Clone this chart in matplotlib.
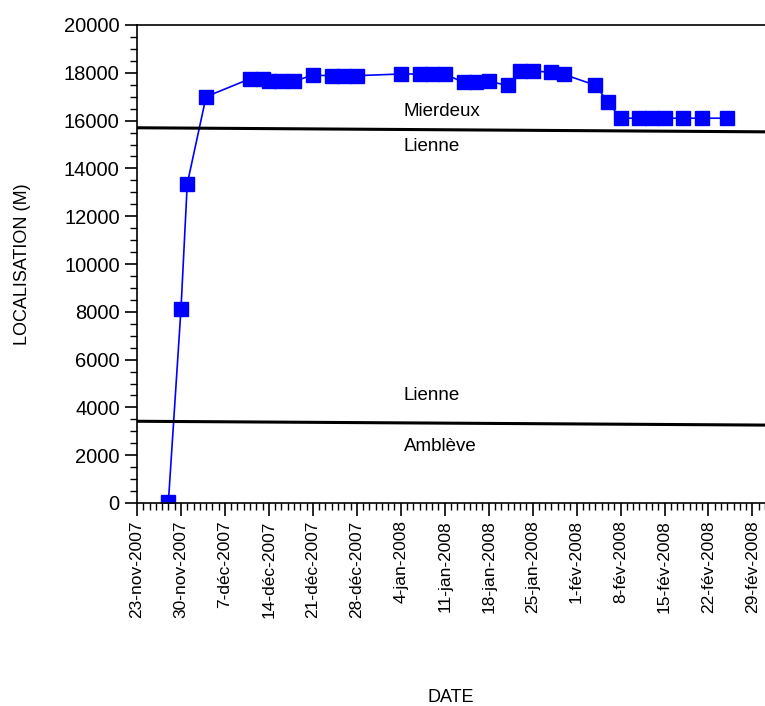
import numpy as np
import matplotlib
matplotlib.use('Agg')
import matplotlib.pyplot as plt
import matplotlib.dates as mdates
from matplotlib.ticker import MultipleLocator, FixedLocator

plt.rcParams['font.family'] = ['Liberation Sans', 'DejaVu Sans']

# positions (m) along the river, by date
dates = ['2007-11-28', '2007-11-30', '2007-12-01', '2007-12-04',
         '2007-12-11', '2007-12-13',
         '2007-12-14', '2007-12-16', '2007-12-18',
         '2007-12-21',
         '2007-12-24', '2007-12-26', '2007-12-28',
         '2008-01-04',
         '2008-01-07', '2008-01-09', '2008-01-11',
         '2008-01-14', '2008-01-16',
         '2008-01-18', '2008-01-21',
         '2008-01-23', '2008-01-25',
         '2008-01-28', '2008-01-30',
         '2008-02-04', '2008-02-06', '2008-02-08',
         '2008-02-11', '2008-02-13', '2008-02-15',
         '2008-02-18', '2008-02-21', '2008-02-25']
localisation = [50, 8100, 13350, 17000,
                17750, 17750,
                17650, 17650, 17650,
                17900,
                17880, 17880, 17880,
                17950,
                17950, 17950, 17950,
                17600, 17600,
                17650, 17470,
                18080, 18080,
                18020, 17930,
                17480, 16770, 16100,
                16100, 16100, 16100,
                16100, 16100, 16100]

# confluences (start / end of the horizontal limit)
confl_upper = [15700, 15530]
confl_lower = [3420, 3260]
labels_upper = ['Mierdeux', 'Lienne']
labels_lower = ['Lienne', 'Amblève']

mois = ['jan', 'fév', 'mar', 'avr', 'mai', 'jun', 'jul', 'aoû', 'sep',
        'oct', 'nov', 'déc']
t_start = np.datetime64('2007-11-23')
t_end = t_start + np.timedelta64(100, 'D')
tick_dates = np.arange(t_start, np.datetime64('2008-03-01'), np.timedelta64(7, 'D'))
tick_labels = ['%d-%s-%d' % (d.day, mois[d.month-1], d.year) for d in tick_dates.astype(object)]

fig = plt.figure(figsize=(7.65, 7.06), dpi=100)
ax = fig.add_axes([137/765, 203/706, 1 - 137/765, 478/706])

t = np.array(dates, dtype='datetime64[D]')
ax.plot(t, localisation, '-s', color='#0000ff', lw=1.2, ms=9.5, mec='#0000ff')

ax.plot([t_start, t_end], confl_upper, 'k', lw=2.2)
ax.plot([t_start, t_end], confl_lower, 'k', lw=2.2)

x_txt = np.datetime64('2008-01-04T12')
ax.text(x_txt, 16400, labels_upper[0], ha='left', va='center', size=13.5)
ax.text(x_txt, 14900, labels_upper[1], ha='left', va='center', size=13.5)
ax.text(x_txt, 4500, labels_lower[0], ha='left', va='center', size=13.5)
ax.text(x_txt, 2350, labels_lower[1], ha='left', va='center', size=13.5)

ax.set_xlim(t_start, t_end)
ax.set_ylim(0, 20000)

ax.xaxis.set_major_locator(FixedLocator(mdates.date2num(tick_dates)))
ax.set_xticklabels(tick_labels, rotation=90, size=12.5)
ax.xaxis.set_minor_locator(mdates.DayLocator())
ax.yaxis.set_major_locator(MultipleLocator(2000))
ax.yaxis.set_minor_locator(MultipleLocator(500))
ax.tick_params(axis='y', labelsize=14.5)
ax.tick_params(which='major', direction='out', length=9, width=1.2)
ax.tick_params(which='minor', direction='out', length=5, width=1)

ax.spines['right'].set_visible(False)
for s in ['left', 'bottom', 'top']:
    ax.spines[s].set_linewidth(1.2)

ax.set_ylabel('LOCALISATION (M)', size=13, labelpad=24)
ax.set_xlabel('DATE', size=13, labelpad=51)

fig.savefig('out.png', dpi=100)
